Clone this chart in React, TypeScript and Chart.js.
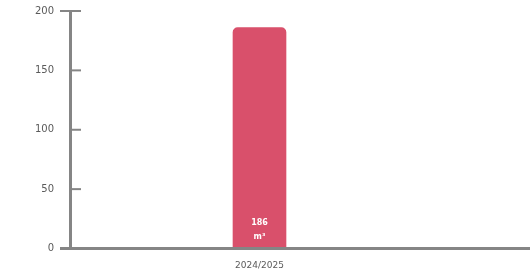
import React, { useEffect, useRef } from "react";
import { Chart, registerables } from "chart.js";

Chart.register(...registerables);

const categories: string[] = ["2024/2025"];
const values: number[] = [186];
const valueUnit = "m³";
const yMin = 0;
const yMax = 200;
const yStep = 50;

const AXIS_COLOR = "#858585";
const BAR_COLOR = "#d9506b";
const FONT = "'DejaVu Sans', sans-serif";

const customAxes = {
  id: "customAxes",
  afterDatasetsDraw(chart: any) {
    const { ctx, chartArea, scales } = chart;
    const y = scales.y;
    ctx.save();
    ctx.strokeStyle = AXIS_COLOR;
    ctx.lineWidth = 3;
    ctx.beginPath();
    ctx.moveTo(chartArea.left - 10, chartArea.bottom);
    ctx.lineTo(chart.width, chartArea.bottom);
    ctx.stroke();
    ctx.lineWidth = 2;
    y.ticks.forEach((t: any) => {
      const py = y.getPixelForValue(t.value);
      ctx.beginPath();
      const isTop = t.value === yMax;
      ctx.moveTo(isTop ? chartArea.left - 10 : chartArea.left, py);
      ctx.lineTo(chartArea.left + 11, py);
      ctx.stroke();
    });
    const meta = chart.getDatasetMeta(0);
    ctx.fillStyle = "#ffffff";
    ctx.textAlign = "center";
    ctx.textBaseline = "middle";
    meta.data.forEach((bar: any, i: number) => {
      ctx.font = `bold 8px ${FONT}`;
      ctx.fillText(String(values[i]), bar.x, bar.base - 26);
      ctx.fillText(valueUnit, bar.x, bar.base - 12);
    });
    ctx.restore();
  },
};

export default function App() {
  const ref = useRef<HTMLCanvasElement | null>(null);
  useEffect(() => {
    if (!ref.current) return;
    const chart = new Chart(ref.current, {
      type: "bar",
      data: {
        labels: categories,
        datasets: [
          {
            data: values,
            backgroundColor: BAR_COLOR,
            borderRadius: { topLeft: 5, topRight: 5, bottomLeft: 0, bottomRight: 0 },
            borderSkipped: false,
            barThickness: 53,
          },
        ],
      },
      options: {
        animation: false,
        responsive: false,
        maintainAspectRatio: false,
        layout: { padding: { top: 11, right: 81, left: 0, bottom: 0 } },
        plugins: {
          legend: { display: false },
          tooltip: { enabled: false },
        },
        scales: {
          x: {
            grid: { display: false, drawTicks: false },
            border: { display: false },
            ticks: {
              padding: 12,
              color: "#5a5a5a",
              font: { family: FONT, size: 9 },
            },
            afterFit: (s: any) => {
              s.height = 24.5;
            },
          },
          y: {
            min: yMin,
            max: yMax,
            grid: { display: false, drawTicks: false },
            border: { display: true, color: AXIS_COLOR, width: 3 },
            ticks: {
              stepSize: yStep,
              padding: 16,
              color: "#5a5a5a",
              font: { family: FONT, size: 10 },
            },
            afterFit: (s: any) => {
              s.width = 70;
              s.paddingTop = 0;
            },
          },
        },
      },
      plugins: [customAxes],
    });
    return () => chart.destroy();
  }, []);
  return (
    <div style={{ position: "fixed", left: 0, top: 0, width: 530, height: 273, background: "#fff" }}>
      <canvas ref={ref} width={530} height={273} style={{ display: "block" }} />
    </div>
  );
}
